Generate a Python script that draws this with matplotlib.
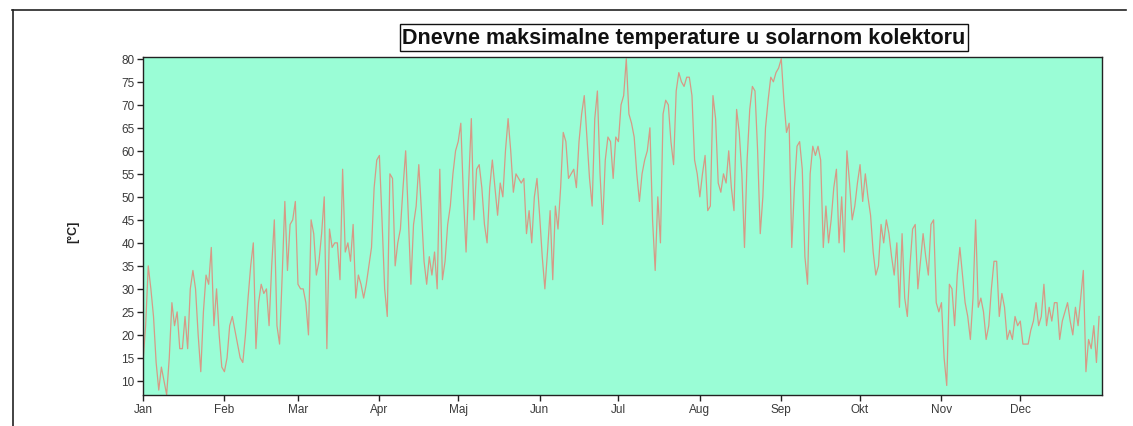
import numpy as np
import matplotlib
matplotlib.use("Agg")
import matplotlib.pyplot as plt
from matplotlib.lines import Line2D

# Daily maximum collector temperature [°C], one list per month
jan = [14, 22, 35, 30, 24, 14, 8, 13, 10, 7, 15, 27, 22, 25, 17, 17, 24, 17, 30, 34, 30, 20, 12, 25, 33, 31, 39, 22, 30, 20, 13]
feb = [12, 15, 22, 24, 21, 18, 15, 14, 20, 28, 35, 40, 17, 27, 31, 29, 30, 22, 35, 45, 22, 18, 33, 49, 34, 44, 45, 49]
mar = [31, 30, 30, 27, 20, 45, 42, 33, 36, 42, 50, 17, 43, 39, 40, 40, 32, 56, 38, 40, 36, 44, 28, 33, 31, 28, 31, 35, 39, 52, 58]
apr = [59, 45, 30, 24, 55, 54, 35, 40, 43, 52, 60, 46, 31, 44, 48, 57, 47, 36, 31, 37, 33, 38, 30, 56, 32, 36, 44, 48, 55, 60]
maj = [62, 66, 50, 38, 53, 67, 45, 56, 57, 52, 44, 40, 52, 58, 52, 46, 53, 50, 60, 67, 60, 51, 55, 54, 53, 54, 42, 47, 40, 50, 54]
jun = [46, 37, 30, 38, 47, 32, 48, 43, 52, 64, 62, 54, 55, 56, 52, 62, 68, 72, 63, 54, 48, 67, 73, 55, 44, 58, 63, 62, 54, 63]
jul = [62, 70, 72, 80, 68, 66, 63, 55, 49, 55, 58, 60, 65, 45, 34, 50, 40, 68, 71, 70, 62, 57, 73, 77, 75, 74, 76, 76, 72, 58, 55]
aug = [50, 55, 59, 47, 48, 72, 67, 53, 51, 55, 53, 60, 52, 47, 69, 64, 55, 39, 58, 69, 74, 73, 60, 42, 50, 65, 71, 76, 75, 77, 78]
sep = [80, 71, 64, 66, 39, 52, 61, 62, 56, 37, 31, 55, 61, 59, 61, 58, 39, 48, 40, 45, 52, 56, 40, 50, 38, 60, 53, 45, 48, 53]
okt = [57, 49, 55, 50, 46, 38, 33, 35, 44, 40, 45, 42, 37, 33, 40, 26, 42, 28, 24, 35, 43, 44, 30, 36, 42, 37, 33, 44, 45, 27, 25]
nov = [27, 15, 9, 31, 30, 22, 33, 39, 33, 27, 24, 19, 28, 45, 26, 28, 25, 19, 22, 30, 36, 36, 24, 29, 26, 19, 21, 19, 24, 22]
dec = [23, 18, 18, 18, 21, 23, 27, 22, 24, 31, 22, 26, 23, 27, 27, 19, 23, 25, 27, 23, 20, 26, 22, 28, 34, 12, 19, 17, 22, 14, 24]

month_labels = ["Jan", "Feb", "Mar", "Apr", "Maj", "Jun", "Jul", "Aug", "Sep", "Okt", "Nov", "Dec"]
months = [jan, feb, mar, apr, maj, jun, jul, aug, sep, okt, nov, dec]
y_ticks = list(range(10, 81, 5))

temps = np.concatenate([np.array(m, dtype=float) for m in months])
days = np.arange(len(temps))
month_starts = np.concatenate([[0], np.cumsum([len(m) for m in months])[:-1]])

plt.rcParams["font.family"] = ["Liberation Sans", "DejaVu Sans"]

fig = plt.figure(figsize=(11.33, 4.27), dpi=100)
fig.patch.set_facecolor("white")

# page frame (top and left edges)
fig.add_artist(Line2D([12 / 1133, 1126 / 1133], [1 - 10.5 / 427, 1 - 10.5 / 427],
                      transform=fig.transFigure, color="#222222", lw=1.2))
fig.add_artist(Line2D([12.5 / 1133, 12.5 / 1133], [1 - 10.5 / 427, 0.0],
                      transform=fig.transFigure, color="#222222", lw=1.2))

ax = fig.add_axes([143 / 1133, 1 - 395.7 / 427, (1101.7 - 143) / 1133, (395.7 - 57.5) / 427])
ax.set_facecolor("#9afdd6")
ax.plot(days, temps, color="#d69a86", lw=0.9)

ax.set_xlim(0, 365)
ax.set_ylim(7, 80.5)
ax.set_yticks(y_ticks)
ax.set_yticklabels([str(v) for v in y_ticks], fontsize=8.5, color="#3a3a3a")
ax.set_xticks(month_starts)
ax.set_xticklabels(month_labels, fontsize=8.5, color="#3a3a3a")
ax.tick_params(axis="both", direction="out", length=4, width=1, color="#222222", pad=2)

for s in ax.spines.values():
    s.set_color("#222222")
    s.set_linewidth(1.0)

fig.text(73 / 1133, 1 - 232 / 427, "[°C]", rotation=90, fontsize=9, fontweight="bold",
         ha="center", va="center", color="#222222")

fig.text(684 / 1133, 1 - 38.5 / 427, "Dnevne maksimalne temperature u solarnom kolektoru",
         fontsize=15.5, fontweight="semibold", ha="center", va="center", color="#111111",
         bbox=dict(boxstyle="square,pad=0.12", facecolor="white", edgecolor="#111111", lw=1.0))

fig.savefig("out.png", dpi=100, facecolor="white")
